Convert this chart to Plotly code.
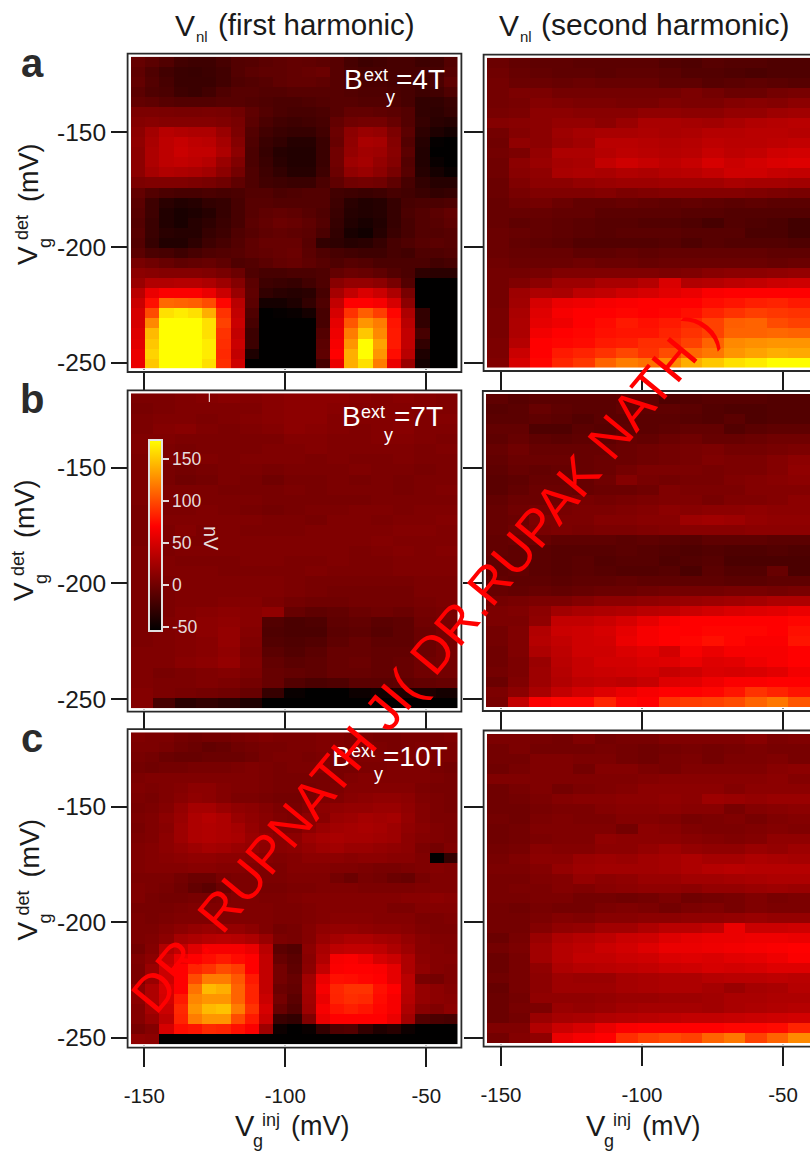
import numpy as np
import plotly.graph_objects as go

W, H = 810, 1154
X_TICKS = [-150, -100, -50]
Y_TICKS = [-150, -200, -250]
CB_TICKS = [-50, 0, 50, 100, 150]
Z_MIN, Z_MAX = -54.4, 172.6
N = -54

first_4T = [
[-5,-10,-15,-22,-24,-24,-20,-14,-13,-10,-8,-6,-7,-9,-12,-20,-24,-22,-20,-20,-24,-22,-14],
[-8,-16,-22,-26,-27,-25,-22,-14,-10,-8,-8,-6,-4,-2,-12,-18,-20,-20,-20,-20,-20,-20,-12],
[-6,-14,-20,-26,-26,-26,-22,-16,-14,-12,-8,-6,-6,-8,-12,-16,-18,-18,-20,-20,-22,-18,-8],
[-10,-16,-18,-24,-26,-22,-16,-12,-12,-14,-14,-12,-12,-12,-12,-14,-16,-16,-18,-20,-24,-22,-16],
[-6,-8,-12,-14,-14,-14,-12,-12,-14,-16,-18,-18,-16,-14,-12,-12,-14,-14,-16,-20,-30,-30,-26],
[6,6,5,4,4,5,4,0,-8,-14,-18,-20,-20,-18,-12,-6,-6,-8,-10,-14,-30,-32,-28],
[10,12,10,10,10,10,8,4,-10,-18,-22,-24,-22,-20,-6,0,2,2,-4,-14,-28,-34,-36],
[14,25,35,32,30,30,20,6,-14,-22,-26,-28,-28,-22,-2,14,20,18,6,-10,-32,-40,-44],
[16,28,38,42,38,36,26,10,-16,-26,-30,-36,-36,-26,-4,16,28,26,10,-14,-36,-52,N],
[14,30,38,44,40,40,30,14,-18,-28,-36,-38,-38,-26,0,18,24,22,12,-10,-38,N,N],
[14,30,38,40,38,34,20,8,-18,-26,-34,-38,-38,-26,0,22,26,18,10,-14,-38,-50,N],
[14,26,32,30,28,24,14,2,-16,-24,-30,-36,-36,-24,-2,16,20,14,4,-12,-36,-44,-50],
[6,8,8,8,6,4,0,-8,-16,-22,-24,-26,-26,-18,-8,0,2,0,-8,-20,-30,-36,-36],
[-6,-14,-18,-20,-20,-18,-20,-18,-14,-14,-18,-16,-14,-14,-22,-24,-26,-24,-20,-22,-26,-30,-28],
[-10,-24,-34,-38,-36,-30,-28,-20,-12,-12,-14,-14,-14,-14,-24,-34,-38,-36,-28,-20,-18,-18,-16],
[-12,-24,-38,-42,-40,-36,-28,-20,-12,-8,-6,-8,-12,-16,-26,-36,-38,-36,-28,-18,-14,-10,-6],
[-14,-26,-38,-42,-36,-32,-26,-20,-10,-6,-2,-4,-8,-14,-28,-38,-42,-38,-28,-20,-14,-12,-8],
[-12,-26,-34,-36,-36,-28,-24,-16,-12,-8,-6,-8,-10,-18,-30,-42,-46,-36,-26,-20,-14,-14,-12],
[-14,-28,-38,-38,-32,-24,-20,-14,-8,-4,-4,-4,-12,-30,-32,-36,-34,-28,-20,-16,-12,-10,-12],
[-10,-18,-20,-24,-20,-16,-14,-12,-8,-6,-4,-2,-10,-16,-20,-22,-24,-24,-20,-22,-16,-16,-14],
[4,0,-4,-8,-6,-4,-8,-16,-14,-10,-6,-4,-8,-12,-16,-12,-14,-18,-18,-18,-18,-22,-20],
[14,12,10,10,10,8,4,-2,-16,-20,-20,-18,-18,-16,-6,-2,-4,-8,-14,-18,-32,-34,-34],
[20,32,32,34,34,30,22,10,-10,-24,-26,-28,-22,-16,12,18,18,14,4,-14,N,N,N],
[36,60,68,68,68,60,44,20,-8,-30,-34,-36,-34,-20,26,40,52,44,30,4,N,N,N],
[44,76,112,110,108,100,72,36,-10,-44,-44,-40,-30,-16,40,70,70,66,50,14,N,N,N],
[50,100,160,165,160,140,90,40,-16,N,-52,-50,-44,-20,50,90,108,95,72,30,-30,N,N],
[50,125,172,172,172,160,96,44,-20,N,N,N,N,-20,58,105,130,120,78,36,-30,N,N],
[54,145,172,172,172,160,90,40,-25,N,N,N,N,-14,62,120,150,125,80,40,-20,N,N],
[56,150,172,172,172,165,88,44,-25,N,N,N,N,-10,66,130,172,135,80,40,-30,N,N],
[60,155,172,172,172,165,86,40,-40,N,N,N,N,-8,70,140,172,130,75,36,-40,N,N],
[60,150,172,172,172,160,88,46,N,N,N,N,N,-20,60,140,160,120,60,20,-44,N,N],
]

first_7T = [
[6,6,8,10,12,10,12,14,14,14,12,10,12,10,8],
[4,6,8,8,8,8,12,14,14,12,10,10,10,10,8],
[6,8,8,6,8,10,12,14,14,10,10,10,12,8,10],
[6,10,12,8,6,8,10,14,12,10,8,10,12,8,8],
[8,8,6,6,6,6,6,10,10,8,8,10,10,8,6],
[8,6,4,6,6,6,8,8,10,8,8,8,8,6,8],
[6,6,8,8,6,8,8,8,6,8,6,6,8,6,6],
[6,4,2,4,6,6,4,6,6,6,8,6,6,4,6],
[6,4,0,2,6,4,0,4,4,6,4,6,4,6,6],
[6,6,6,6,4,4,4,6,4,6,6,6,4,6,8],
[6,6,6,6,6,6,4,4,4,4,4,6,6,6,6],
[4,6,6,8,6,4,2,4,6,6,8,8,6,8,8],
[4,8,8,8,8,8,6,6,4,8,8,6,8,8,10],
[4,6,10,6,8,6,6,6,8,8,8,8,10,10,8],
[4,6,6,6,8,8,8,8,8,8,8,10,8,8,8],
[6,6,8,8,8,8,8,8,8,8,6,8,10,8,10],
[6,8,6,6,6,8,8,6,6,8,6,6,8,8,8],
[6,8,8,8,6,6,6,6,8,6,6,6,8,8,8],
[6,6,8,8,8,8,8,6,4,4,4,4,4,6,6],
[6,6,8,8,8,8,8,6,4,2,2,2,2,6,6],
[6,6,8,8,10,10,6,2,0,0,2,2,2,4,6],
[6,6,10,12,14,12,16,-4,-8,-6,-2,0,-2,2,4],
[6,8,10,14,16,12,-14,-18,-16,-8,-6,-10,-8,0,4],
[6,8,10,14,18,10,-16,-18,-18,-10,-8,-12,-8,-2,2],
[6,8,10,12,18,8,-14,-16,-14,-8,-4,-8,-8,-2,2],
[8,8,10,12,16,6,-10,-14,-10,-4,-4,-6,-6,-2,2],
[8,8,12,14,18,8,-6,-10,-8,-4,-2,-6,-4,0,2],
[8,4,6,8,10,6,-4,-6,-8,-4,-4,-6,-4,0,2],
[8,6,6,8,6,2,-4,-14,-18,-16,-10,-10,-8,-6,-4],
[10,6,4,2,0,-4,-28,-50,N,N,-48,-46,-40,-40,-44],
[10,-20,-34,-30,-34,-40,N,N,N,N,N,N,N,N,N],
]

first_10T = [
[8,6,6,2,0,2,2,4,6,8,6,6,6,8,8,6,6,4,4,6,6,6,8],
[6,6,4,0,-2,-6,-4,0,2,4,4,6,6,8,8,6,8,6,4,6,8,6,6],
[4,2,-2,-4,-4,-2,-2,-2,0,4,6,6,4,6,6,6,8,8,8,6,8,6,6],
[2,0,2,2,4,4,4,6,8,6,4,6,6,8,4,4,6,6,8,8,8,4,2],
[6,8,8,8,8,8,8,8,8,6,4,4,4,4,4,8,10,8,8,8,8,6,4],
[8,6,8,10,14,14,10,8,8,6,4,4,2,4,6,10,10,10,10,10,6,4,4],
[6,4,8,12,16,14,10,6,6,4,2,2,4,8,8,12,14,16,16,14,8,6,4],
[4,6,10,18,26,26,20,16,14,10,6,4,8,14,16,18,18,20,20,16,10,6,4],
[6,8,14,20,30,34,30,20,16,12,8,6,14,12,20,22,26,24,26,18,10,6,6],
[4,8,12,22,30,32,30,26,18,12,8,8,14,20,24,26,28,26,22,16,12,8,6],
[6,8,14,22,30,32,30,28,20,16,12,14,22,26,28,26,26,24,22,14,10,8,6],
[8,10,14,18,22,26,24,20,18,14,12,14,18,22,24,20,20,18,16,14,6,2,8],
[8,10,12,14,16,16,14,14,12,10,8,10,14,14,14,12,14,14,12,12,8,N,-30],
[8,10,10,10,12,12,10,10,8,6,6,10,10,10,8,8,6,4,4,6,8,10,8],
[6,6,6,2,-2,-2,4,6,6,6,6,8,8,8,2,-2,4,2,-2,-4,4,8,8],
[8,6,4,0,-6,-10,-2,6,6,4,4,6,6,8,8,8,6,6,6,6,8,8,8],
[8,4,2,2,4,4,6,8,8,6,6,8,10,10,10,10,10,10,10,12,12,14,12],
[4,4,4,6,8,8,8,8,8,8,6,6,8,10,10,10,10,10,6,6,10,10,10],
[6,4,6,8,8,8,8,8,8,8,6,6,8,10,12,12,12,10,10,10,6,6,8],
[6,6,10,14,18,20,18,18,14,8,2,4,10,16,18,18,16,14,14,12,8,6,6],
[6,8,14,26,30,34,36,34,30,20,6,4,10,20,26,30,30,26,24,18,12,8,8],
[2,10,32,40,55,66,66,66,60,36,-10,-14,14,28,38,40,40,38,30,22,12,10,8],
[8,14,40,60,70,75,80,74,70,40,-4,-10,12,32,66,68,62,50,44,30,14,10,10],
[6,20,44,70,84,90,100,94,70,40,2,-8,14,40,68,70,70,68,58,30,16,10,8],
[6,20,44,70,100,120,120,105,80,40,2,-4,24,60,76,75,72,70,58,36,4,2,8],
[14,30,50,70,116,145,140,110,84,40,-2,-6,26,66,85,90,90,76,70,36,18,14,10],
[14,30,48,80,124,130,130,110,84,44,2,-10,24,60,84,88,86,74,66,34,18,14,12],
[10,26,44,86,130,145,148,120,90,50,-4,-14,22,66,78,82,78,72,66,30,12,8,14],
[10,20,38,84,120,130,130,100,80,44,-26,-30,8,60,70,70,70,70,60,24,-14,-18,-20],
[4,10,50,75,78,86,84,76,68,22,-48,N,-50,-30,-16,-14,-30,-40,-35,-48,N,N,N],
[16,14,N,N,N,N,N,N,N,N,N,N,N,N,N,N,N,N,N,N,N,N,N],
]

second_4T = [
[-2,-6,-8,-8,-10,-10,-10,-10,-14,-16,-12,-14,-14,-16,-16],
[0,-4,-6,-8,-8,-10,-8,-8,-10,-14,-14,-16,-18,-16,-16],
[2,-2,-2,-4,-2,-4,-4,-4,-8,-8,-12,-10,-8,-10,-12],
[2,6,6,2,2,2,2,2,2,6,2,-2,-2,2,4],
[2,4,10,8,6,6,4,4,8,6,6,10,12,10,14],
[4,6,14,14,12,12,12,16,16,14,14,18,18,22,24],
[10,12,14,18,18,14,20,28,28,26,24,28,32,34,36],
[2,10,14,22,26,28,28,30,28,30,34,34,36,36,34],
[0,16,14,20,24,36,36,34,32,34,38,36,36,38,40],
[2,6,18,30,30,34,38,36,34,36,42,38,40,46,48],
[0,14,20,26,28,40,46,42,38,42,50,44,48,52,54],
[0,12,16,28,30,28,32,30,34,36,40,46,46,42,40],
[-2,8,14,14,18,20,22,22,24,24,24,28,26,26,24],
[-2,4,8,8,8,10,6,8,10,10,10,10,8,6,4],
[-4,0,2,-2,-6,-6,-4,-6,-8,-6,-8,-10,-8,-10,-10],
[-4,-4,-4,-6,-6,-10,-10,-10,-10,-12,-12,-14,-14,-14,-14],
[-4,-8,-6,-8,-10,-12,-12,-14,-14,-16,-20,-14,-16,-18,-22],
[-2,-4,-6,-8,-10,-12,-10,-10,-10,-12,-12,-12,-18,-18,-22],
[-2,-6,-8,-10,-14,-14,-14,-14,-12,-16,-12,-14,-14,-14,-16],
[-2,-4,-4,-4,-8,-8,-6,-8,-6,-6,-6,-6,-6,-8,-8],
[0,-2,-2,-2,0,-2,-2,-4,-2,-2,-2,-2,-2,-4,-2],
[2,2,4,8,8,8,8,8,6,8,12,14,14,16,18],
[2,8,14,22,22,28,28,34,52,32,34,38,40,44,46],
[2,22,30,28,38,40,46,50,56,60,68,70,70,70,70],
[2,24,50,60,62,66,68,70,70,70,75,78,82,84,80],
[4,28,55,66,70,70,72,70,72,76,84,90,95,92,90],
[4,30,58,62,70,74,80,76,80,86,96,108,110,100,96],
[4,30,64,70,72,76,78,78,84,90,96,110,110,112,110],
[6,34,70,72,74,80,82,88,88,96,110,125,128,130,130],
[6,44,70,80,84,90,98,90,100,112,118,130,135,140,138],
[8,50,72,85,92,110,120,115,125,140,150,160,165,172,172],
]

second_7T = [
[-8,-12,-10,-10,-10,-10,-8,-8,-16,-14,-12,-12,-12,-14,-14],
[-12,-10,-4,-8,-10,-10,-6,-8,-8,-10,-14,-16,-16,-14,-14],
[-10,-10,-8,-10,-14,-10,-10,-10,-10,-12,-14,-10,-16,-14,-14],
[-6,-6,-16,-16,-10,-12,-8,-10,-8,-6,-6,-14,-10,-8,-8],
[-8,-4,-8,-10,-8,-8,-4,-6,-2,0,-4,-4,-2,0,0],
[-4,0,-4,-4,-4,-4,-2,0,2,4,6,2,2,4,6],
[-6,-2,-2,-2,-4,-2,-2,0,2,4,8,6,6,10,14],
[-8,-4,-6,-4,-4,-2,2,6,6,6,4,6,6,10,16],
[-10,-8,-4,-4,-4,0,10,4,2,4,4,8,10,12,14],
[-10,-6,-2,-2,-4,-2,-2,0,8,6,6,6,10,10,10],
[-6,-2,-2,0,4,2,4,6,8,8,4,8,8,10,14],
[-4,0,2,4,6,6,8,10,14,12,14,14,16,14,14],
[-4,-2,6,6,6,10,10,12,12,22,24,22,18,16,16],
[-4,0,4,6,4,6,6,8,10,12,12,12,14,14,14],
[-6,-4,-4,-8,-8,-8,-10,-8,-10,-12,-8,-8,-8,-10,-10],
[-6,-8,-10,-12,-12,-12,-10,-12,-14,-16,-14,-16,-16,-14,-16],
[-8,-8,-10,-12,-10,-14,-12,-12,-16,-14,-12,-18,-18,-18,-18],
[-8,-6,-10,-12,-10,-12,-14,-14,-12,-18,-10,-14,-14,-4,-18],
[-6,-8,-8,-10,-8,-8,-6,-8,-8,-8,-8,-10,-10,-8,-8],
[-4,-6,-4,-6,-4,-2,-2,0,2,2,2,4,4,2,4],
[2,4,6,6,10,14,14,16,18,20,22,24,26,30,30],
[6,8,14,24,28,30,32,36,38,44,48,52,54,56,60],
[6,6,16,40,40,44,50,58,66,70,70,70,70,70,72],
[2,8,32,44,46,50,58,66,70,70,72,72,72,70,76],
[2,8,34,40,46,48,60,66,70,72,76,72,68,68,78],
[0,8,30,38,46,46,52,56,48,66,60,66,66,66,70],
[0,6,20,36,42,48,48,52,54,60,54,56,62,66,70],
[2,6,22,34,42,44,46,48,42,46,52,50,52,56,64],
[-2,8,22,32,38,40,38,42,54,56,62,68,68,70,70],
[6,14,28,40,48,54,60,66,70,70,72,78,90,84,78],
[4,40,68,72,72,84,72,70,90,94,96,100,110,118,105],
]

second_10T = [
[6,6,4,2,8,2,4,4,8,8,8,8,12,6,8],
[2,6,2,2,2,4,2,0,2,4,2,4,6,4,4],
[2,2,8,8,6,6,2,0,4,6,2,6,6,8,4],
[0,4,8,8,2,10,10,6,4,8,8,8,8,12,14],
[8,8,8,8,8,8,8,10,12,12,12,12,12,14,10],
[0,4,8,2,6,8,10,14,14,14,14,10,14,14,14],
[0,2,6,10,12,12,14,14,16,14,22,20,18,20,20],
[0,0,4,6,6,10,12,12,14,12,12,4,10,12,14],
[2,0,6,8,6,6,10,10,8,4,6,8,4,8,10],
[0,2,8,8,8,8,2,14,12,8,6,6,8,10,8],
[0,2,6,8,8,16,14,14,14,12,10,8,10,16,16],
[2,4,12,10,10,14,14,18,22,18,16,16,20,18,22],
[4,8,14,14,20,22,20,24,26,30,26,26,30,28,26],
[6,6,10,18,22,24,24,24,26,30,34,36,34,34,34],
[4,4,8,10,18,14,16,20,20,24,24,26,28,30,30],
[4,6,6,10,8,12,14,16,16,14,18,18,20,22,20],
[4,4,6,6,2,2,0,2,6,0,2,4,8,4,6],
[2,0,4,2,2,6,8,6,2,6,8,4,8,6,6],
[2,2,6,10,8,12,12,14,14,16,16,18,20,18,18],
[2,2,10,16,18,24,24,30,36,36,40,60,44,44,46],
[-2,4,20,30,34,38,44,46,54,58,60,60,62,62,60],
[2,6,24,34,38,44,48,54,60,60,62,64,66,68,70],
[-2,4,24,34,40,40,44,46,52,54,52,56,58,62,68],
[-2,4,16,30,34,36,38,40,44,46,50,48,50,54,54],
[0,4,14,22,20,20,26,28,30,30,34,36,36,38,36],
[-4,4,14,22,22,22,26,28,30,30,26,20,26,28,34],
[-2,2,16,16,16,18,20,20,22,22,24,28,28,30,30],
[-2,4,6,20,18,20,24,26,26,26,24,28,30,32,34],
[-2,2,20,26,28,32,34,36,38,40,40,42,44,46,48],
[8,8,32,44,50,60,68,70,70,70,70,72,72,74,84],
[2,10,16,60,66,70,88,96,100,96,110,118,96,110,125],
]

# panel geometry in page pixels: image box, frame box, pixel of the -150 mV ticks and mV scale
PANELS = [
 dict(z=first_4T,  box=(131,457.5,56.7,368.3), out=(127.6,461.4,53.6,372), t=(144.3,132,247,362.7), xlab=False),
 dict(z=first_7T,  box=(131,457.5,393.3,708.3),out=(127.6,461.4,390.3,711.6),t=(144.3,467.7,583.3,699), xlab=False),
 dict(z=first_10T, box=(131,457.5,732.3,1044.3),out=(127.6,461.4,729.2,1047.6),t=(144.3,806.7,922.7,1037.7), xlab=True),
 dict(z=second_4T, box=(487,810,57.7,367.7),   out=(483.6,816,54.6,371), t=(501,132,247,362.7), xlab=False),
 dict(z=second_7T, box=(486,810,394,707.3),    out=(482.8,816,391,711), t=(501,468,583.3,698.6), xlab=False),
 dict(z=second_10T,box=(487,810,734,1043),     out=(483.6,816,730.5,1046.6), t=(501,806.7,922.7,1038), xlab=True),
]

CS = [[0, "#000000"], [(70 - Z_MIN) / (Z_MAX - Z_MIN), "#ff0000"], [1, "#ffff00"]]
FONT = "Liberation Sans"
INK = "#1a1a1a"

fig = go.Figure()
shapes = []
axes = {}
for i, p in enumerate(PANELS):
    l, r, t, b = p["box"]
    tx, y150, y200, y250 = p["t"]
    xs = 141 / 50
    ys = (y250 - y150) / 100
    xrange_ = [-150 + (l - tx) / xs, -150 + (r - tx) / xs]
    yrange_ = [-150 - (b - y150) / ys, -150 - (t - y150) / ys]
    z = np.array(p["z"], dtype=float)
    xname = f"x{i+1}" if i else "x"
    yname = f"y{i+1}" if i else "y"
    fig.add_trace(go.Heatmap(
        z=z,
        x=np.linspace(xrange_[0], xrange_[1], z.shape[1] + 1),
        y=np.linspace(yrange_[1], yrange_[0], z.shape[0] + 1),
        coloraxis="coloraxis", xaxis=xname, yaxis=yname, hoverinfo="skip",
    ))
    suffix = str(i + 1) if i else ""
    axes["xaxis" + suffix] = dict(
        domain=[l / W, r / W], range=xrange_, anchor=yname, showgrid=False, zeroline=False,
        tickmode="array", tickvals=X_TICKS,
        ticktext=[str(v) for v in X_TICKS] if p["xlab"] else None,
        showticklabels=p["xlab"], ticks="outside", ticklen=22, tickwidth=2, tickcolor=INK,
        ticklabelstandoff=11, tickfont=dict(family=FONT, size=20.5, color=INK),
    )
    axes["yaxis" + suffix] = dict(
        domain=[1 - b / H, 1 - t / H], range=yrange_, anchor=xname, showgrid=False, zeroline=False,
        tickmode="array", tickvals=Y_TICKS, ticktext=[str(v) for v in Y_TICKS],
        showticklabels=i < 3, ticks="outside", ticklen=19 if i < 3 else 22, tickwidth=2, tickcolor=INK,
        tickfont=dict(family=FONT, size=24.5, color=INK),
    )
    ol, or_, ot, ob = p["out"]
    def rect(a, c, d, e, color, w):
        return dict(type="rect", xref="paper", yref="paper", x0=a / W, x1=c / W,
                    y0=1 - d / H, y1=1 - e / H, line=dict(color=color, width=w),
                    fillcolor="rgba(0,0,0,0)", layer="above")
    shapes.append(rect(ol + 1.2, or_ - 1.2, ot + 1.2, ob - 1.2, "#ffffff", 2.4))
    shapes.append(rect(ol, or_, ot, ob, "#2a2a2a", 1.8))

shapes.append(dict(type="line", xref="paper", yref="paper", x0=209.3 / W, x1=209.3 / W,
                   y0=1 - 393 / H, y1=1 - 402 / H, line=dict(color="#ffffff", width=1), layer="above"))

anns = []
def txt(x, y, s, size, color=INK, angle=0, family=FONT, bold=False):
    anns.append(dict(xref="paper", yref="paper", x=x / W, y=1 - y / H, text=f"<b>{s}</b>" if bold else s,
                     showarrow=False, xanchor="center", yanchor="middle", textangle=angle,
                     font=dict(family=family, size=size, color=color)))

# column titles
txt(185, 25, "V", 30); txt(202, 37, "nl", 15); txt(316.5, 24, "(first harmonic)", 29.5)
txt(509, 25, "V", 30); txt(526, 37, "nl", 15); txt(665, 24, "(second harmonic)", 30)

# panel letters
txt(32, 63, "a", 40, "#2b2b2b", bold=True)
txt(32, 399, "b", 40, "#2b2b2b", bold=True)
txt(32, 738, "c", 40, "#2b2b2b", bold=True)

# y axis titles
for dx, dy in [(4, -336), (0, 0), (4, 339.5)]:
    txt(23 + dx, 592 + dy, "V", 28, angle=-90)
    txt(18 + dx, 564 + dy, "det", 18, angle=-90)
    txt(41 + dx, 579 + dy, "g", 18, angle=-90)
    txt(25 + dx, 509 + dy, "(mV)", 27, angle=-90)

# x axis titles
for dx in [0, 350.5]:
    txt(245 + dx, 1126, "V", 29)
    txt(258 + dx, 1141, "g", 18)
    txt(271 + dx, 1120, "inj", 18)
    txt(320 + dx, 1126, "(mV)", 27)

# field labels
for bx, by, label, lx in [(353.5, 79.5, "=4T", 421), (351, 416.5, "=7T", 418), (341, 756, "=10T", 415.5)]:
    txt(bx, by, "B", 28, "#ffffff")
    txt(bx + 22, by - 5, "ext", 18, "#ffffff")
    txt(bx + 37, by + 18, "y", 18, "#ffffff")
    txt(lx, by, label, 28, "#ffffff")

txt(211, 538, "nV", 20, "#e6dcdc", angle=90)
txt(424, 663, "DR. RUPNATH JI( DR.RUPAK NATH )", 52, "#ff0000", angle=-50.5)

fig.update_layout(
    width=W, height=H, margin=dict(l=0, r=0, t=0, b=0, autoexpand=False), autosize=False,
    paper_bgcolor="#ffffff", plot_bgcolor="#ffffff", showlegend=False,
    shapes=shapes, annotations=anns,
    coloraxis=dict(
        cmin=Z_MIN, cmax=Z_MAX, colorscale=CS,
        colorbar=dict(
            x=149 / W, xanchor="left", xpad=0, y=1 - 631 / H, yanchor="bottom", ypad=0,
            thickness=13, thicknessmode="pixels", len=191, lenmode="pixels",
            outlinecolor="#e0e0e0", outlinewidth=2, borderwidth=0, bgcolor="rgba(0,0,0,0)",
            tickmode="array", tickvals=CB_TICKS, ticktext=[str(v) for v in CB_TICKS],
            ticks="outside", ticklen=6, tickwidth=2, tickcolor="#e6dcdc",
            tickfont=dict(family=FONT, size=17.5, color="#e6dcdc"),
        ),
    ),
    **axes,
)
fig.write_html("out.html", post_script="document.body.style.margin='0';document.body.style.overflow='hidden';",
               config=dict(displayModeBar=False))
